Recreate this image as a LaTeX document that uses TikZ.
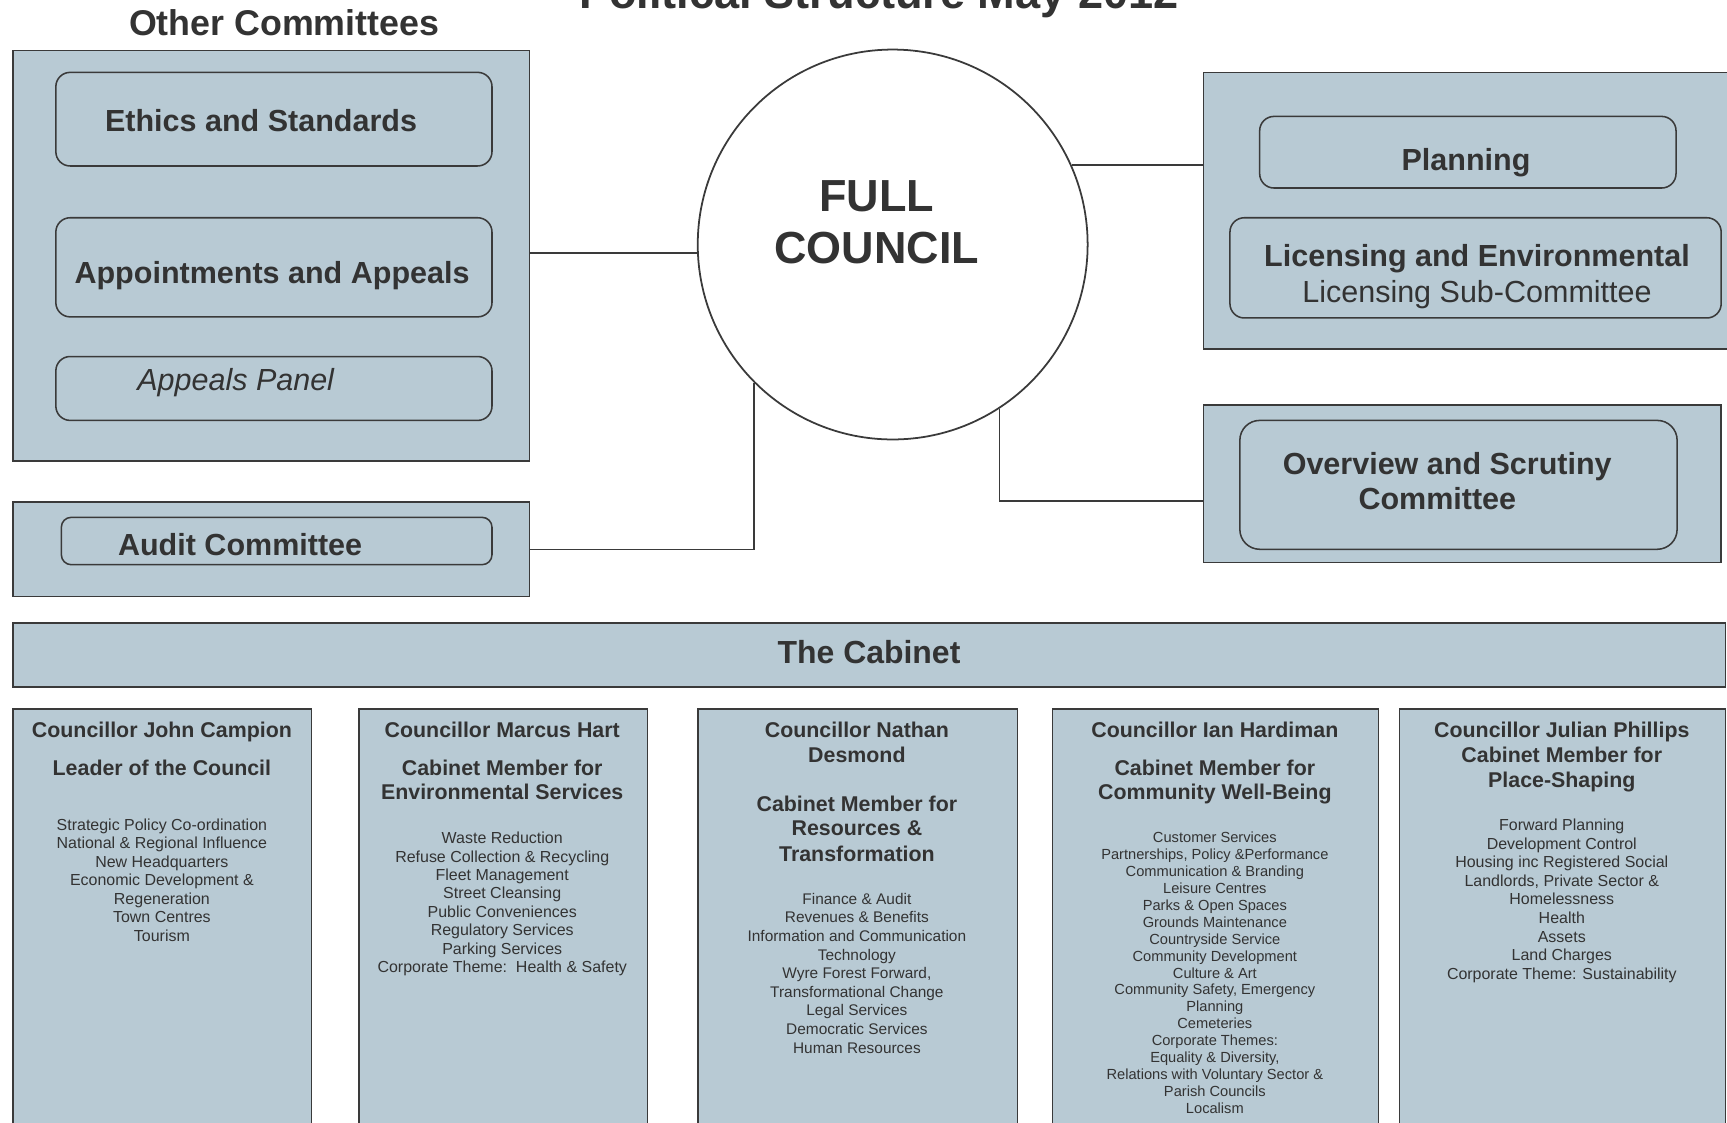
\documentclass[tikz,border=0pt]{standalone}
\usepackage{fontspec}
\setmainfont{Liberation Sans}
\definecolor{boxfill}{RGB}{184,202,212}
\definecolor{ink}{RGB}{51,51,51}
\definecolor{edge}{RGB}{58,58,58}
\tikzset{
 outer/.style={draw=edge, line width=1.4pt, fill=boxfill, inner sep=0pt, anchor=north west},
 inner/.style={outer, rounded corners=13pt},
 conn/.style={draw=edge, line width=1.4pt},
 lbl/.style={text=ink, inner sep=0pt, anchor=base},
 ttl/.style={lbl, font=\fontsize{41}{48}\selectfont\bfseries},
 sec/.style={lbl, font=\fontsize{32.5}{38}\selectfont\bfseries},
 com/.style={lbl, font=\fontsize{27.7}{33}\selectfont\bfseries},
 comr/.style={lbl, font=\fontsize{27.7}{33}\selectfont},
 comi/.style={lbl, font=\fontsize{27.7}{33}\selectfont\itshape},
 full/.style={lbl, font=\fontsize{40.8}{48}\selectfont\bfseries},
 cab/.style={lbl, font=\fontsize{29}{34}\selectfont\bfseries},
 hd/.style={lbl, font=\fontsize{19.4}{23}\selectfont\bfseries},
 itm/.style={lbl, font=\fontsize{14.5}{17}\selectfont},
 itmm/.style={lbl, font=\fontsize{14}{17}\selectfont},
 itms/.style={lbl, font=\fontsize{13.3}{16}\selectfont},
}
\begin{document}
\begin{tikzpicture}[x=1pt,y=-1pt]
\useasboundingbox (0,0) rectangle (1568,1019);
\fill[white] (0,0) rectangle (1568,1019);

% title (cut off at top, as in the reference)
\node[ttl] (title) at (798,8) {Political Structure May 2012};
\node[sec] (other) at (258,32) {Other Committees};

% left committees
\node[outer, minimum width=469pt, minimum height=373pt] (L) at (11,45) {};
\node[inner, minimum width=396pt, minimum height=85pt] (E) at (50,65) {};
\node[inner, minimum width=396pt, minimum height=90pt] (A) at (50,197) {};
\node[inner, minimum width=396pt, minimum height=58pt] (P) at (50,323) {};
\node[com] (Et) at (237,119) {Ethics and Standards};
\node[com] (At) at (247,257) {Appointments and Appeals};
\node[comi] (Pt) at (214,355) {Appeals Panel};

% audit
\node[outer, minimum width=469pt, minimum height=86pt] (AO) at (11,455) {};
\node[inner, minimum width=391pt, minimum height=43pt, rounded corners=9pt] (AI) at (55,469) {};
\node[com] (AIt) at (218,504) {Audit Committee};

% full council
\node[circle, draw=edge, line width=1.6pt, fill=white, minimum size=354pt, inner sep=0pt] (FC) at (810.5,222) {};
\node[full] (FC1) at (796,192) {FULL};
\node[full] (FC2) at (796,239) {COUNCIL};

% right committees
\node[outer, minimum width=500pt, minimum height=251pt] (R) at (1092,65) {};
\node[inner, minimum width=378pt, minimum height=65pt] (PL) at (1143,105) {};
\node[com] (PLt) at (1331,155) {Planning};
\node[inner, minimum width=446pt, minimum height=91pt] (LI) at (1116,197) {};
\node[com] (LIt1) at (1341,242) {Licensing and Environmental};
\node[comr] (LIt2) at (1341,275) {Licensing Sub-Committee};

\node[outer, minimum width=470pt, minimum height=143pt] (OV) at (1092,367) {};
\node[inner, minimum width=397pt, minimum height=117pt, rounded corners=18pt] (OI) at (1125,381) {};
\node[com] (OIt1) at (1314,431) {Overview and Scrutiny};
\node[com] (OIt2) at (1305,463) {Committee};

% connectors
\draw[conn] ([yshift=2.5pt]L.east) -- ([yshift=2.5pt]L.east -| FC.west);
\draw[conn] (AO.east) -| (FC.225);
\draw[conn] (FC.24) -- (FC.24 -| R.west);
\draw[conn] (FC.-57) |- ([yshift=-15.5pt]OV.west);

% cabinet
\node[outer, minimum width=1555pt, minimum height=58pt] (CB) at (11,565) {};
\node[cab] (CBt) at (789,602) {The Cabinet};

% columns
\node[outer, minimum width=271pt, minimum height=420pt] (K1) at (11,643) {};
\node[outer, minimum width=262pt, minimum height=420pt] (K2) at (325,643) {};
\node[outer, minimum width=290pt, minimum height=420pt] (K3) at (633,643) {};
\node[outer, minimum width=296pt, minimum height=420pt] (K4) at (955,643) {};
\node[outer, minimum width=296pt, minimum height=420pt] (K5) at (1270,643) {};

% column 1
\node[hd] (h1a) at (147,670) {Councillor John Campion};
\node[hd] (h1b) at (147,704) {Leader of the Council};
\foreach \t [count=\i] in {Strategic Policy Co-ordination, National \& Regional Influence, New Headquarters, Economic Development \&, Regeneration, Town Centres, Tourism}
  \node[itm] (k1i\i) at (147,{754+(\i-1)*16.8}) {\t};

% column 2
\node[hd] (h2a) at (456,670) {Councillor Marcus Hart};
\node[hd] (h2b) at (456,704) {Cabinet Member for};
\node[hd] (h2c) at (456,726) {Environmental Services};
\foreach \t [count=\i] in {Waste Reduction, Refuse Collection \& Recycling, Fleet Management, Street Cleansing, Public Conveniences, Regulatory Services, Parking Services, Corporate Theme:\ \ Health \& Safety}
  \node[itm] (k2i\i) at (456,{766+(\i-1)*16.7}) {\t};

% column 3
\node[hd] (h3a) at (778,670) {Councillor Nathan};
\node[hd] (h3b) at (778,692) {Desmond};
\node[hd] (h3c) at (778,737) {Cabinet Member for};
\node[hd] (h3d) at (778,759) {Resources \&};
\node[hd] (h3e) at (778,782) {Transformation};
\foreach \t [count=\i] in {Finance \& Audit, Revenues \& Benefits, Information and Communication, Technology, {Wyre Forest Forward,}, Transformational Change, Legal Services, Democratic Services, Human Resources}
  \node[itmm] (k3i\i) at (778,{821+(\i-1)*16.9}) {\t};

% column 4
\node[hd] (h4a) at (1103,670) {Councillor Ian Hardiman};
\node[hd] (h4b) at (1103,704) {Cabinet Member for};
\node[hd] (h4c) at (1103,726) {Community Well-Being};
\foreach \t [count=\i] in {Customer Services, {Partnerships, Policy \&Performance}, Communication \& Branding, Leisure Centres, Parks \& Open Spaces, Grounds Maintenance, Countryside Service, Community Development, Culture \& Art, {Community Safety, Emergency}, Planning, Cemeteries, Corporate Themes:, {Equality \& Diversity,}, Relations with Voluntary Sector \&, Parish Councils, Localism}
  \node[itms] (k4i\i) at (1103,{765+(\i-1)*15.375}) {\t};

% column 5
\node[hd] (h5a) at (1418,670) {Councillor Julian Phillips};
\node[hd] (h5b) at (1418,692) {Cabinet Member for};
\node[hd] (h5c) at (1418,715) {Place-Shaping};
\foreach \t [count=\i] in {Forward Planning, Development Control, Housing inc Registered Social, {Landlords, Private Sector \&}, Homelessness, Health, Assets, Land Charges, Corporate Theme: Sustainability}
  \node[itm] (k5i\i) at (1418,{754+(\i-1)*16.9}) {\t};
\end{tikzpicture}
\end{document}
